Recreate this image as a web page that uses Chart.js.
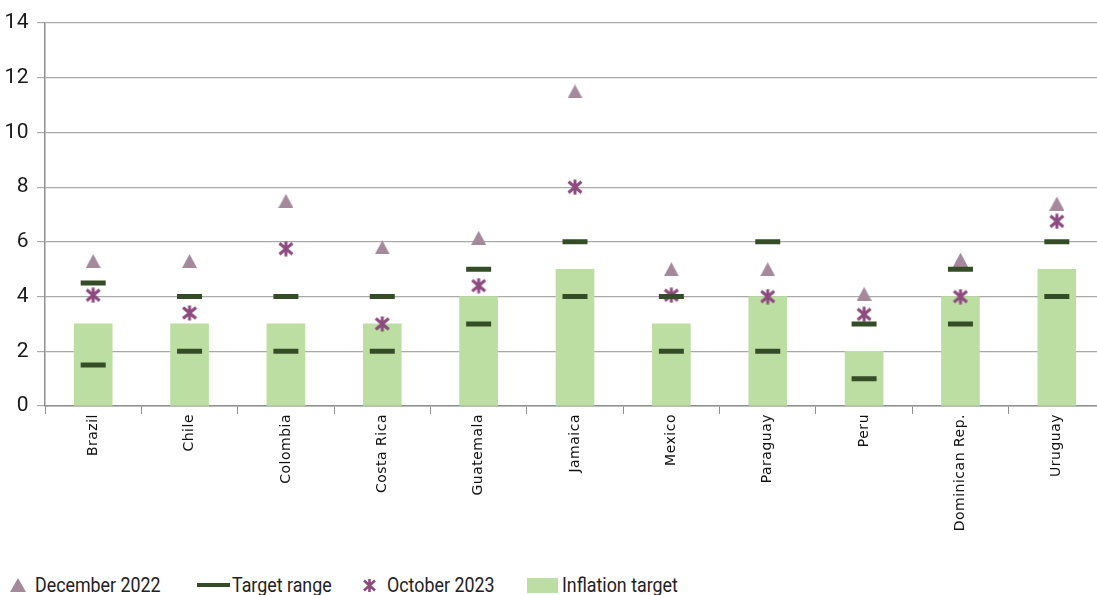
<!DOCTYPE html>
<html lang="en">
  <head>
    <meta charset="utf-8" />
    <title>Inflation targets</title>
    <script src="https://cdn.jsdelivr.net/npm/chart.js@4.4.1/dist/chart.umd.min.js"></script>

    <style type='text/css'>

      body{
        margin: 0;
        background-color: #ffffff;
        overflow: hidden;
      }

      #wrap{
        position: relative;
        width: 1097px;
        height: 595px;
        overflow: hidden;
      }

      #chartBox{
        position: absolute;
        left: 0;
        top: 0;
      }

      #legend{
        position: absolute;
        left: 0;
        top: 572px;
        width: 1097px;
        height: 26px;
        font-family: 'Roboto', sans-serif;
        font-size: 20.5px;
        color: #222222;
      }

      .item{
        position: absolute;
        top: 0;
        height: 26px;
        line-height: 26px;
        white-space: nowrap;
        transform: scaleX(0.87);
        transform-origin: left center;
      }

      .icon{
        position: absolute;
      }

    </style>
  </head>
  <body>

    <div id='wrap'>
      <div id='chartBox'>
        <canvas id="myChart" width="1105" height="556"></canvas>
      </div>

      <div id='legend'>
        <svg class='icon' style='left:10px;top:6px' width='16' height='14'><polygon points='8,0 16,14 0,14' fill='#a4899a'/></svg>
        <div class='item' style='left:35px'>December 2022</div>
        <div class='icon' style='left:197px;top:11px;width:33px;height:4px;background:#344d27'></div>
        <div class='item' style='left:232px'>Target range</div>
        <svg class='icon' style='left:363px;top:7px' width='13' height='13'><path d='M6.5,0 L6.5,13 M1,1.5 L12,11.5 M12,1.5 L1,11.5' stroke='#8c4a7e' stroke-width='2.6' fill='none'/></svg>
        <div class='item' style='left:387px'>October 2023</div>
        <div class='icon' style='left:527px;top:6px;width:31px;height:15px;background:#bcdea2'></div>
        <div class='item' style='left:562px'>Inflation target</div>
      </div>
    </div>

    <script id='chartData'>

      var countries = ["Brazil", "Chile", "Colombia", "Costa Rica", "Guatemala", "Jamaica", "Mexico", "Paraguay", "Peru", "Dominican Rep.", "Uruguay"];
      var inflationTarget = [3, 3, 3, 3, 4, 5, 3, 4, 2, 4, 5];
      var rangeLow = [1.5, 2, 2, 2, 3, 4, 2, 2, 1, 3, 4];
      var rangeHigh = [4.5, 4, 4, 4, 5, 6, 4, 6, 3, 5, 6];
      var dec2022 = [5.3, 5.3, 7.5, 5.8, 6.15, 11.5, 5.0, 5.0, 4.1, 5.35, 7.4];
      var oct2023 = [4.05, 3.4, 5.75, 3.0, 4.4, 8.0, 4.05, 4.0, 3.35, 4.0, 6.75];
      var yMax = 14;
      var yStep = 2;

    </script>

    <script id='chartLogic'>

      // marker images for the two point series
      function makeTriangle(){
        var c = document.createElement('canvas');
        c.width = 15; c.height = 14;
        var g = c.getContext('2d');
        g.fillStyle = '#a4899a';
        g.beginPath();
        g.moveTo(7.5, 0); g.lineTo(15, 14); g.lineTo(0, 14);
        g.closePath();
        g.fill();
        return c;
      }

      function makeStar(){
        var c = document.createElement('canvas');
        c.width = 16; c.height = 16;
        var g = c.getContext('2d');
        g.strokeStyle = '#8c4a7e';
        g.lineWidth = 3;
        g.beginPath();
        g.moveTo(8, 0.5); g.lineTo(8, 15.5);
        g.moveTo(1.5, 2.5); g.lineTo(14.5, 13.5);
        g.moveTo(14.5, 2.5); g.lineTo(1.5, 13.5);
        g.stroke();
        return c;
      }

      // a little tracking on the canvas text, like the original
      var spacing = {
        id: 'spacing',
        beforeDraw: function(chart){
          chart.ctx.letterSpacing = '0.5px';
        }
      };

      new Chart(document.getElementById("myChart").getContext('2d'), {
        data: {
          labels: countries,
          datasets: [
            {
              type: 'line',
              label: 'Target range',
              data: rangeHigh,
              showLine: false,
              pointStyle: 'line',
              pointRadius: 12.5,
              pointBorderWidth: 5,
              pointBorderColor: '#344d27',
              pointBackgroundColor: '#344d27',
              order: 1
            },
            {
              type: 'line',
              label: 'Target range (low)',
              data: rangeLow,
              showLine: false,
              pointStyle: 'line',
              pointRadius: 12.5,
              pointBorderWidth: 5,
              pointBorderColor: '#344d27',
              pointBackgroundColor: '#344d27',
              order: 1
            },
            {
              type: 'line',
              label: 'October 2023',
              data: oct2023,
              showLine: false,
              pointStyle: makeStar(),
              pointRadius: 8,
              order: 2
            },
            {
              type: 'line',
              label: 'December 2022',
              data: dec2022,
              showLine: false,
              pointStyle: makeTriangle(),
              pointRadius: 8,
              order: 3
            },
            {
              type: 'bar',
              label: 'Inflation target',
              data: inflationTarget,
              backgroundColor: '#bcdea2',
              barThickness: 38,
              order: 10
            }
          ]
        },
        options: {
          responsive: false,
          animation: false,
          layout: { autoPadding: false, padding: { top: 23, left: 0, right: 0, bottom: 0 } },
          plugins: {
            legend: { display: false },
            tooltip: { enabled: false }
          },
          scales: {
            x: {
              afterFit: function(axis){ axis.height = 150; },
              grid: {
                offset: true,
                drawOnChartArea: false,
                drawTicks: true,
                tickLength: 8,
                color: '#8f8f8f'
              },
              border: { color: '#8f8f8f', width: 1.5 },
              ticks: {
                autoSkip: false,
                minRotation: 90,
                maxRotation: 90,
                padding: 0,
                color: '#111111',
                font: { family: "'DejaVu Sans', sans-serif", size: 14 }
              }
            },
            y: {
              min: 0,
              max: yMax,
              afterFit: function(axis){ axis.width = 45; },
              grid: {
                color: '#a9a9a9',
                lineWidth: 1.2,
                tickLength: 8
              },
              border: { color: '#8f8f8f', width: 1.5 },
              ticks: {
                stepSize: yStep,
                padding: 8,
                color: '#1a1a1a',
                font: { family: "'Roboto', sans-serif", size: 21 }
              }
            }
          }
        },
        plugins: [spacing]
      });

    </script>

  </body>
</html>
